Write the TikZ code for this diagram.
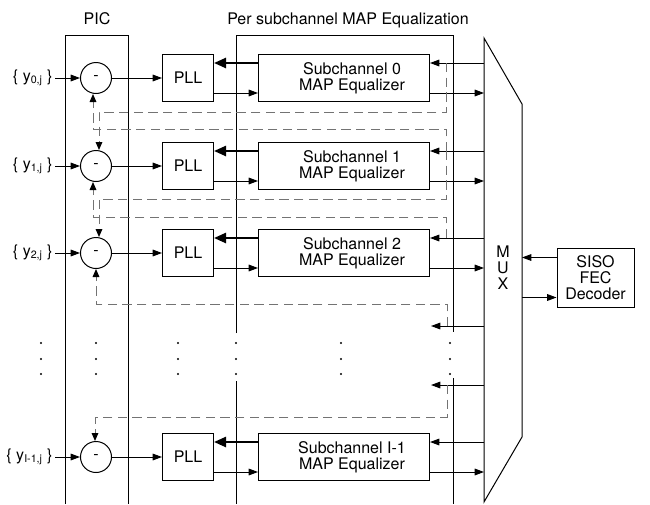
\documentclass[tikz,border=0pt]{standalone}
\usepackage{fontspec}
\setmainfont{TeX Gyre Heros}
\usetikzlibrary{arrows.meta,calc}

\tikzset{
  sig/.style={-{Triangle[length=7pt,width=5pt]}},
  thk/.style={line width=1.8pt, -{Triangle[length=9pt,width=7.5pt]}},
  fb/.style={draw=black!55, dash pattern=on 7pt off 4pt, -{Triangle[length=6pt,width=5pt,color=black]}},
  sub/.style={draw, circle, minimum size=23.25pt, inner sep=0pt},
  pllbox/.style={draw, minimum width=38.25pt, minimum height=35.25pt},
  eqbox/.style={draw, minimum width=128.25pt, minimum height=35.25pt},
  lbl/.style={anchor=east, inner sep=1.5pt},
}

\begin{document}
\begin{tikzpicture}[x=0.75pt, y=-0.75pt, line width=0.75pt, every node/.style={font=\fontsize{12}{12}\selectfont}]
  \useasboundingbox (0,0) rectangle (650,504);

  % Frames
  \draw (65,504) -- (65,35) -- (128,35) -- (128,504);
  \node[anchor=base] (piclbl) at (97,24) {PIC};
  \draw (236,333) -- (236,35) -- (453,35) -- (453,332);
  \draw (236,381) -- (236,504);
  \draw (453,378) -- (453,504);
  \node[anchor=base] (eqlbl) at (348,24) {Per subchannel MAP Equalization};

  % MUX
  \coordinate (muxtl) at (484,38);
  \coordinate (muxtr) at (522,104);
  \coordinate (muxbr) at (522,437);
  \coordinate (muxbl) at (484,502);
  \draw (muxtl) -- (muxtr) -- (muxbr) -- (muxbl) -- cycle;
  \node[align=center] (muxlbl) at (503,268) {M\\U\\X};

  % Decoder
  \node[draw, align=center, minimum width=57.75pt, minimum height=44.25pt] (siso) at (595.5,277.5) {SISO\\FEC\\Decoder};
  \coordinate (sisoout) at ([yshift=15pt]siso.west);
  \coordinate (sisoin) at ([yshift=-15pt]siso.west);
  \draw[sig] (sisoout) -- (muxtr |- sisoout);
  \draw[sig] (muxtr |- sisoin) -- (sisoin);

  % Subchannel rows
  \foreach \i/\yr/\sb in {0/78/0, 1/166/1, 2/253/2, 3/457/I-1} {
    \node[lbl] (y\i) at (55,\yr) {\{ y\textsubscript{\sb,j} \}};
    \node[sub] (c\i) at (96,\yr) {-};
    \node[pllbox] (pll\i) at (188,\yr) {PLL};
    \node[eqbox, label={[xshift=6pt, align=center]center:{Subchannel \sb\\MAP Equalizer}}] (eq\i) at (344,\yr) {};
    \coordinate (in\i) at ([yshift=11.25pt]eq\i.east);
    \coordinate (out\i) at ([yshift=-11.25pt]eq\i.east);
    \coordinate (tap\i) at ([xshift=12pt]in\i);
    \draw[sig] (y\i) -- (c\i);
    \draw[sig] (c\i) -- (pll\i);
    \draw[thk] ([yshift=11.25pt]eq\i.west) -- ([yshift=11.25pt]pll\i.east);
    \draw[sig] ([yshift=-11.25pt]pll\i.east) -- ([yshift=-11.25pt]eq\i.west);
    \draw[sig] (muxtl |- in\i) -- (in\i);
    \draw[sig] (out\i) -- (muxtl |- out\i);
  }

  % Inputs of the hidden rows
  \coordinate (inx) at (431,326);
  \coordinate (iny) at (431,385);
  \coordinate (tapx) at (447,326);
  \coordinate (tapy) at (447,385);
  \draw[sig] (muxtl |- inx) -- (inx);
  \draw[sig] (muxtl |- iny) -- (iny);

  % Interference feedback
  \draw[fb] (tap0) |- ($(c1.north)+(3,-38)$) -- ([xshift=2.25pt]c1.north);
  \draw[fb] (tap1) |- ($(c0.south)+(-3,35)$) -- ([xshift=-2.25pt]c0.south);
  \draw[fb] (tap1) |- ($(c2.north)+(3,-38)$) -- ([xshift=2.25pt]c2.north);
  \draw[fb] (tap2) |- ($(c1.south)+(-3,35)$) -- ([xshift=-2.25pt]c1.south);
  \draw[fb] (tapx) |- ($(c2.south)+(0,35)$) -- (c2.south);
  \draw[fb] (tapy) |- ($(c3.north)+(-1,-24)$) -- ([xshift=-0.75pt]c3.north);

  % Dots
  \foreach \x in {41,96,178,236,341,450}
    \foreach \y in {343,359,374}
      \fill (\x,\y) circle (0.8pt);
\end{tikzpicture}
\end{document}
